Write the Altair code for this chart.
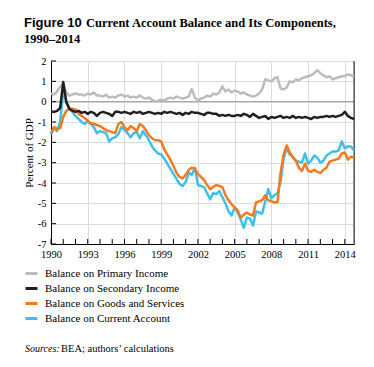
import altair as alt
import pandas as pd

# Quarterly, 1990Q1 .. 2014Q4, percent of GDP
quarters = [1990 + i / 4 for i in range(100)]

primary = [
    0.4, 0.35, 0.5, 0.75,   0.8, 0.45, 0.3, 0.35,   0.4, 0.35, 0.35, 0.3,
    0.4, 0.35, 0.45, 0.3,   0.3, 0.25, 0.35, 0.2,   0.25, 0.2, 0.3, 0.35,
    0.25, 0.3, 0.2, 0.25,   0.2, 0.3, 0.2, 0.15,    0.2, 0.1, 0.0, 0.05,
    0.1, 0.05, 0.15, 0.2,   0.15, 0.25, 0.2, 0.15,  0.2, 0.25, 0.62, 0.2,
    0.05, 0.15, 0.2, 0.3,   0.25, 0.4, 0.35, 0.45,  0.75, 0.5, 0.6, 0.45,
    0.55, 0.5, 0.4, 0.45,   0.35, 0.3, 0.25, 0.3,   0.4, 0.6, 1.1, 1.05,
    1.0, 1.15, 1.2, 0.65,   0.6, 0.7, 1.0, 0.95,    1.1, 1.05, 1.15, 1.2,
    1.25, 1.3, 1.4, 1.55,   1.4, 1.3, 1.2, 1.25,    1.1, 1.15, 1.2, 1.25,
    1.25, 1.35, 1.3, 1.2,
]

secondary = [
    -0.5, -0.5, -0.45, -0.3,   0.97, 0.0, -0.35, -0.45,   -0.5, -0.45, -0.55, -0.5,
    -0.6, -0.5, -0.55, -0.7,   -0.55, -0.5, -0.55, -0.6,  -0.7, -0.5, -0.5, -0.55,
    -0.5, -0.55, -0.6, -0.5,   -0.55, -0.5, -0.6, -0.55,  -0.5, -0.55, -0.6, -0.55,
    -0.6, -0.5, -0.55, -0.5,   -0.55, -0.6, -0.55, -0.65, -0.55, -0.6, -0.5, -0.55,
    -0.55, -0.6, -0.65, -0.55, -0.55, -0.6, -0.6, -0.7,   -0.65, -0.7, -0.65, -0.7,
    -0.7, -0.65, -0.7, -0.6,   -0.65, -0.75, -0.6, -0.7,  -0.8, -0.75, -0.7, -0.85,
    -0.75, -0.8, -0.75, -0.7,  -0.8, -0.75, -0.8, -0.7,   -0.8, -0.75, -0.8, -0.75,
    -0.8, -0.85, -0.75, -0.8,  -0.75, -0.75, -0.7, -0.75, -0.7, -0.75, -0.7, -0.65,
    -0.5, -0.7, -0.8, -0.85,
]

goods = [
    -1.55, -1.25, -1.35, -1.3,  -0.75, -0.45, -0.35, -0.35,  -0.38, -0.6, -0.7, -0.8,
    -0.95, -1.05, -1.1, -1.15,  -1.2, -1.3, -1.4, -1.45,     -1.5, -1.55, -1.1, -1.0,
    -1.25, -1.4, -1.2, -1.3,    -1.45, -1.1, -1.2, -1.4,     -1.65, -1.8, -1.9, -1.9,
    -1.95, -2.35, -2.6, -2.85,  -3.15, -3.5, -3.7, -3.77,    -3.6, -3.35, -3.25, -3.3,
    -3.55, -3.7, -3.85, -4.1,   -4.3, -4.2, -4.1, -4.15,     -4.2, -4.6, -4.85, -5.05,
    -5.2, -5.35, -5.7, -5.55,   -5.45, -5.55, -5.6, -4.95,   -4.9, -4.85, -4.6, -4.85,
    -4.9, -4.95, -4.95, -3.5,   -2.6, -2.15, -2.5, -2.75,    -2.9, -3.25, -3.4, -3.05,
    -3.4, -3.45, -3.35, -3.45,  -3.5, -3.35, -3.25, -2.95,   -2.9, -2.85, -2.8, -2.55,
    -2.5, -2.85, -2.7, -2.75,
]

current = [
    -1.6, -1.3, -1.45, -0.97,   0.55, -0.05, -0.35, -0.5,    -0.7, -0.85, -1.0, -1.1,
    -0.95, -1.1, -1.25, -1.55,  -1.45, -1.5, -1.55, -1.95,   -1.8, -1.75, -1.6, -1.25,
    -1.4, -1.55, -1.75, -1.55,  -1.5, -1.8, -1.45, -1.65,    -1.9, -2.2, -2.4, -2.55,
    -2.6, -2.8, -3.05, -3.3,    -3.55, -3.8, -4.05, -4.15,   -3.95, -3.5, -3.6, -3.25,
    -4.1, -4.15, -4.2, -4.5,    -4.8, -4.5, -4.55, -4.4,     -4.7, -5.0, -5.4, -5.6,
    -5.2, -5.45, -5.8, -6.2,    -5.7, -5.75, -6.1, -5.4,     -5.45, -5.5, -4.9, -4.3,
    -4.75, -4.6, -4.5, -3.95,   -2.8, -2.3, -2.6, -2.7,      -2.9, -2.95, -3.0, -2.55,
    -3.05, -2.9, -2.65, -2.75,  -3.0, -2.9, -2.65, -2.55,    -2.45, -2.45, -2.4, -1.95,
    -2.3, -2.2, -2.2, -2.4,
]

series_names = [
    "Balance on Primary Income",
    "Balance on Secondary Income",
    "Balance on Goods and Services",
    "Balance on Current Account",
]
series_colors = ["#bcbcbc", "#231f20", "#f47a20", "#3ec0ea"]
x_labels = [1990, 1993, 1996, 1999, 2002, 2005, 2008, 2011, 2014]
y_labels = [-7, -6, -5, -4, -3, -2, -1, 0, 1, 2]
minor_years = list(range(1990, 2015))

rows = []
for name, vals in zip(series_names, [primary, secondary, goods, current]):
    for t, v in zip(quarters, vals):
        rows.append({"t": t, "v": v, "s": name})
df = pd.DataFrame(rows)

W, H = 303, 183
SERIF = "Liberation Serif"
SANS = "Liberation Sans"

xs = alt.Scale(domain=[1990, 2014.75], nice=False, zero=False)
ys = alt.Scale(domain=[-7, 2], nice=False, zero=False)

x_axis = alt.Axis(
    values=x_labels, format="d", grid=True, gridColor="#dcdcdc", gridWidth=1,
    ticks=False, domainColor="#000", domainWidth=1, labelFont=SERIF,
    labelFontSize=10.5, labelColor="#000", labelPadding=5.5, labelOverlap=False,
    labelFlush=False, title=None)
y_axis = alt.Axis(
    values=y_labels, labelExpr="'' + datum.value", grid=True, gridColor="#dcdcdc",
    gridWidth=1, ticks=False, domainColor="#000", domainWidth=1, labelFont=SERIF,
    labelFontSize=10.5, labelColor="#000", labelPadding=5, labelOverlap=False,
    labelFlush=False, title="Percent of GDP",
    titleFont=SERIF, titleFontSize=11, titleFontWeight="normal", titleColor="#000",
    titlePadding=3)

x_enc = alt.X("t:Q", scale=xs, axis=x_axis)
y_enc = alt.Y("v:Q", scale=ys, axis=y_axis)

color_enc = alt.Color("s:N", scale=alt.Scale(domain=series_names, range=series_colors),
    legend=alt.Legend(orient="none", legendX=-27, legendY=205, title=None,
                      symbolType="stroke", symbolStrokeWidth=3, symbolSize=144,
                      labelFont=SERIF, labelFontSize=11, labelColor="#000",
                      labelOffset=6, rowPadding=1, labelLimit=300))

base = alt.Chart(df)

def series_layer(name):
    return base.transform_filter(alt.datum.s == name).mark_line(
        strokeWidth=2.5, strokeJoin="round").encode(x=x_enc, y=y_enc, color=color_enc)

zero_rule = alt.Chart(pd.DataFrame({"z": [0]})).mark_rule(color="#999", strokeWidth=1).encode(
    y=alt.Y("z:Q", scale=ys, axis=y_axis))

xtick_df = pd.DataFrame({"yr": minor_years})
xticks = alt.Chart(xtick_df).mark_rule(color="#000", strokeWidth=1).encode(
    x=alt.X("yr:Q", scale=xs, axis=x_axis), y=alt.value(H - 5), y2=alt.value(H))

ytick_df = pd.DataFrame({"yv": y_labels})
yticks = alt.Chart(ytick_df).mark_rule(color="#000", strokeWidth=1).encode(
    y=alt.Y("yv:Q", scale=ys, axis=y_axis), x=alt.value(0), x2=alt.value(5))

right_border = alt.Chart(pd.DataFrame({"a": [1]})).mark_rule(color="#333", strokeWidth=1).encode(
    x=alt.value(W), y=alt.value(0), y2=alt.value(H))

def text_layer(txt, x, y, font, size, weight="normal", style="normal"):
    return alt.Chart(pd.DataFrame({"txt": [txt]})).mark_text(
        align="left", baseline="alphabetic", font=font, fontSize=size,
        fontWeight=weight, fontStyle=style, color="#000").encode(
        text="txt:N", x=alt.value(x), y=alt.value(y))

titles = [
    text_layer("Figure 10", -27, -34, SANS, 13, "bold"),
    text_layer("Current Account Balance and Its Components,", 35, -34, SERIF, 12.5, "bold"),
    text_layer("1990\u20132014", -27, -18, SERIF, 12.5, "bold"),
    text_layer("Sources:", -26, 291, SERIF, 10, "normal", "italic"),
    text_layer("BEA; authors\u2019 calculations", 10, 291, SERIF, 10.5),
]

chart = alt.layer(
    zero_rule, xticks, yticks, right_border,
    series_layer(series_names[3]),
    series_layer(series_names[2]),
    series_layer(series_names[0]),
    series_layer(series_names[1]),
    *titles,
).properties(
    width=W, height=H,
    autosize=alt.AutoSizeParams(type="none"),
    padding={"left": 43, "top": 53, "right": 12, "bottom": 110},
).configure_view(stroke="#888", strokeWidth=1).configure_legend(
    labelFont=SERIF, labelFontSize=11)

chart.save("out.html", embed_options={"renderer": "svg", "actions": False})
